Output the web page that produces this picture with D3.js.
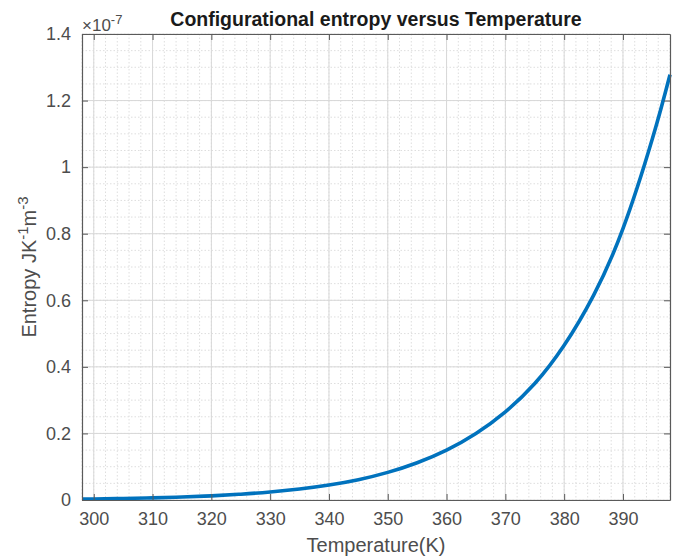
<!DOCTYPE html>
<html>
<head>
<meta charset="utf-8">
<script src="https://cdn.jsdelivr.net/npm/d3@7"></script>
<style>
  body { margin: 0; background: #fff; }
  svg text { font-family: "Liberation Sans", Arial, sans-serif; }
</style>
</head>
<body>
<svg id="chart"></svg>
<script>
// Temperature (K) and configurational entropy (x1e-7 J K^-1 m^-3)
const temperature = [298, 300, 305, 310, 315, 320, 325, 330, 335, 340, 345, 350, 355,
                     360, 365, 370, 375, 380, 385, 390, 395, 398];
const entropy = [0.0028, 0.0032, 0.0045, 0.0064, 0.009, 0.0125, 0.0175, 0.024, 0.033, 0.045,
                 0.061, 0.083, 0.112, 0.150, 0.200, 0.265, 0.350, 0.465, 0.615, 0.815, 1.085, 1.278];
const xTicks = [300, 310, 320, 330, 340, 350, 360, 370, 380, 390];
const yTicks = [0, 0.2, 0.4, 0.6, 0.8, 1, 1.2, 1.4];
const xMinor = d3.range(298, 399, 2);
const yMinor = d3.range(0, 1.41, 0.05);

const W = 681, H = 558;
const m = { top: 34, right: 11, bottom: 58, left: 82 };
const iw = W - m.left - m.right, ih = H - m.top - m.bottom;

const svg = d3.select('#chart').attr('width', W).attr('height', H);
const g = svg.append('g').attr('transform', `translate(${m.left},${m.top})`);

const x = d3.scaleLinear().domain([298, 398]).range([0, iw]);
const y = d3.scaleLinear().domain([0, 1.4]).range([ih, 0]);

const axisCol = '#5a5a5a';

// minor grid (dotted)
g.append('g').selectAll('line').data(xMinor).enter().append('line')
  .attr('x1', d => x(d)).attr('x2', d => x(d)).attr('y1', 0).attr('y2', ih)
  .attr('stroke', '#dedede').attr('stroke-width', 1).attr('stroke-dasharray', '1.5,2');
g.append('g').selectAll('line').data(yMinor).enter().append('line')
  .attr('y1', d => y(d)).attr('y2', d => y(d)).attr('x1', 0).attr('x2', iw)
  .attr('stroke', '#dedede').attr('stroke-width', 1).attr('stroke-dasharray', '1.5,2');

// major grid
g.append('g').selectAll('line').data(xTicks).enter().append('line')
  .attr('x1', d => x(d)).attr('x2', d => x(d)).attr('y1', 0).attr('y2', ih)
  .attr('stroke', '#d8d8d8').attr('stroke-width', 1);
g.append('g').selectAll('line').data(yTicks).enter().append('line')
  .attr('y1', d => y(d)).attr('y2', d => y(d)).attr('x1', 0).attr('x2', iw)
  .attr('stroke', '#d8d8d8').attr('stroke-width', 1);

// curve
const line = d3.line()
  .x((d, i) => x(temperature[i]))
  .y(d => y(d))
  .curve(d3.curveNatural);
g.append('path')
  .datum(entropy)
  .attr('d', line)
  .attr('fill', 'none')
  .attr('stroke', '#0072BD')
  .attr('stroke-width', 3.6);

// axes (MATLAB style: ticks inward, box on)
const tickLen = 6;
const fmtY = d => d === 0 ? '0' : d3.format('~g')(d);

const xb = g.append('g').attr('transform', `translate(0,${ih})`)
  .call(d3.axisBottom(x).tickValues(xTicks).tickSizeInner(-tickLen).tickSizeOuter(0).tickPadding(12));
const xt = g.append('g')
  .call(d3.axisTop(x).tickValues(xTicks).tickSizeInner(-tickLen).tickSizeOuter(0).tickFormat(''));
const yl = g.append('g')
  .call(d3.axisLeft(y).tickValues(yTicks).tickSizeInner(-tickLen).tickSizeOuter(0).tickPadding(11).tickFormat(fmtY));
const yr = g.append('g').attr('transform', `translate(${iw},0)`)
  .call(d3.axisRight(y).tickValues(yTicks).tickSizeInner(-tickLen).tickSizeOuter(0).tickFormat(''));

[xb, xt, yl, yr].forEach(a => {
  a.select('.domain').attr('stroke', axisCol).attr('stroke-width', 1.2);
  a.selectAll('.tick line').attr('stroke', axisCol).attr('stroke-width', 1);
  a.selectAll('.tick text').attr('fill', '#4d4d4d').style('font-size', '18px');
});

// exponent label
const ex = svg.append('text')
  .attr('x', m.left).attr('y', 31)
  .attr('fill', '#4d4d4d').style('font-size', '17px');
ex.append('tspan').text('\u00d710');
ex.append('tspan').attr('dy', -7).style('font-size', '13px').text('-7');

// title
svg.append('text')
  .attr('x', m.left + iw / 2).attr('y', 26)
  .attr('text-anchor', 'middle')
  .attr('fill', '#1a1a1a')
  .style('font-size', '19.5px').style('font-weight', 'bold')
  .text('Configurational entropy versus Temperature');

// x label
svg.append('text')
  .attr('x', m.left + iw / 2).attr('y', 552)
  .attr('text-anchor', 'middle')
  .attr('fill', '#4d4d4d').style('font-size', '20px')
  .text('Temperature(K)');

// y label
const ylab = svg.append('text')
  .attr('transform', `translate(36,${m.top + ih / 2}) rotate(-90)`)
  .attr('text-anchor', 'middle')
  .attr('fill', '#4d4d4d').style('font-size', '20px');
ylab.append('tspan').text('Entropy JK');
ylab.append('tspan').attr('dy', -8).style('font-size', '15px').text('-1');
ylab.append('tspan').attr('dy', 8).text('m');
ylab.append('tspan').attr('dy', -8).style('font-size', '15px').text('-3');
</script>
</body>
</html>
